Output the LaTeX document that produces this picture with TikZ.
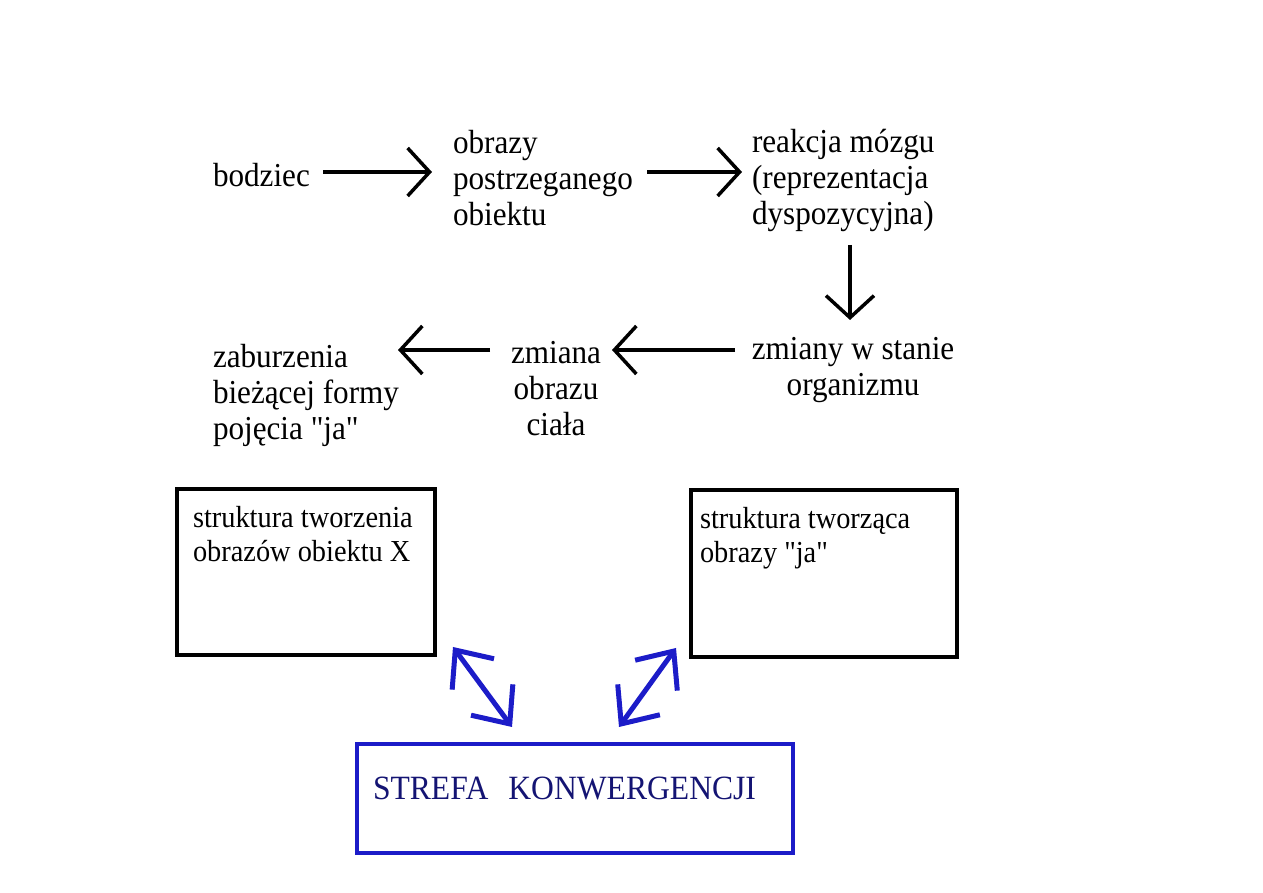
\documentclass[tikz,border=0pt]{standalone}
\usepackage{fontspec}
\setmainfont[FakeStretch=0.93, Ligatures=TeXReset]{Liberation Serif}
\usetikzlibrary{arrows.meta}
\definecolor{penblue}{RGB}{28,28,200}
\definecolor{navy}{RGB}{20,20,115}
\tikzset{
  every node/.style={inner sep=0pt, outer sep=0pt},
  main/.style={font=\fontsize{33.5}{36}\selectfont},
  small/.style={font=\fontsize{30.5}{34}\selectfont},
  flow/.style={line width=3.5pt, -{Straight Barb[length=22pt,width=48pt,line width=3.5pt]}},
  blk/.style={draw=black, line width=4pt},
  blu/.style={draw=penblue, line width=4pt},
  dbl/.style={draw=penblue, line width=5pt, {Straight Barb[length=30pt,width=52pt,line width=5pt]}-{Straight Barb[length=30pt,width=52pt,line width=5pt]}},
}
\begin{document}
\begin{tikzpicture}[x=1pt,y=1pt]
\useasboundingbox (0,0) rectangle (1263,893);
% texts
\node[main, anchor=base west] (bodziec) at (213,706) {bodziec};
\node[main, anchor=north west, align=left] (obrazy) at (453,763) {obrazy\\postrzeganego\\obiektu};
\node[main, anchor=north west, align=left] (reakcja) at (752,764) {reakcja mózgu\\(reprezentacja\\dyspozycyjna)};
\node[main, anchor=north, align=center] (zmiany) at (853,556) {zmiany w stanie\\organizmu};
\node[main, anchor=north, align=center] (zmiana) at (556,552) {zmiana\\obrazu\\ciała};
\node[main, anchor=north west, align=left] (zab) at (213,549) {zaburzenia\\bieżącej formy\\pojęcia "ja"};
% arrows
\coordinate (a1s) at (323,721); \coordinate (a1e) at (432,721);
\coordinate (a2s) at (647,721); \coordinate (a2e) at (742,721);
\coordinate (a3s) at (850,648); \coordinate (a3e) at (850,573);
\coordinate (a4s) at (735,543); \coordinate (a4e) at (612,543);
\coordinate (a5s) at (490,543); \coordinate (a5e) at (398,543);
\draw[flow] (a1s) -- (a1e);
\draw[flow] (a2s) -- (a2e);
\draw[flow] (a3s) -- (a3e);
\draw[flow] (a4s) -- (a4e);
\draw[flow] (a5s) -- (a5e);
% boxes
\node[blk, minimum width=258, minimum height=166, anchor=north west] (box1) at (177,404) {};
\node[small, anchor=north west, align=left] (box1t) at (193,387) {struktura tworzenia\\obrazów obiektu X};
\node[blk, minimum width=266, minimum height=167, anchor=north west] (box2) at (691,403) {};
\node[small, anchor=north west, align=left] (box2t) at (700,386) {struktura tworząca\\obrazy "ja"};
\node[blu, minimum width=436, minimum height=109, anchor=north west] (strefa) at (357,149) {};
\node[font=\fontsize{34}{36}\selectfont, text=navy, anchor=base west] (strefat) at (373,93) {STREFA\hspace{20pt}KONWERGENCJI};
% blue double arrows
\coordinate (b1a) at (453,246); \coordinate (b1b) at (512,166);
\coordinate (b2a) at (676,245); \coordinate (b2b) at (619,166);
\draw[dbl] (b1a) -- (b1b);
\draw[dbl] (b2a) -- (b2b);
\end{tikzpicture}
\end{document}
